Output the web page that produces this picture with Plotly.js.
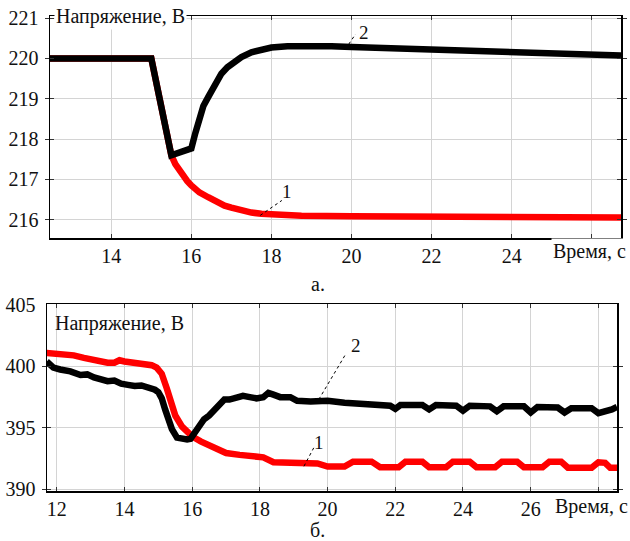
<!DOCTYPE html>
<html>
<head>
<meta charset="utf-8">
<script src="https://cdn.plot.ly/plotly-3.0.1.min.js"></script>
<style>html,body{margin:0;padding:0;background:#fff;}</style>
</head>
<body>
<div id="chart" style="width:630px;height:541px"></div>
<script>
// ---- Panel а: 220 V network ----
const tA = [12.47, 14.9, 15.0, 15.25, 15.5, 15.6, 15.75, 15.9, 16.0, 16.2, 16.42, 16.6, 16.83, 17.0, 17.25, 17.5, 17.75, 18.0, 18.4, 18.75, 20, 22, 24, 26.73];
const vA1 = [220.0, 220.0, 220.0, 218.8, 217.6, 217.38, 217.14, 216.96, 216.85, 216.68, 216.56, 216.45, 216.35, 216.3, 216.23, 216.18, 216.15, 216.13, 216.11, 216.1, 216.09, 216.08, 216.07, 216.06];
const tA2 = [12.47, 15.0, 15.5, 16.0, 16.1, 16.2, 16.3, 16.42, 16.6, 16.75, 16.9, 17.0, 17.25, 17.5, 17.75, 18.0, 18.4, 18.75, 19.5, 20, 21, 22, 23, 24, 25, 26, 26.73];
const vA2 = [220.0, 220.0, 217.6, 217.77, 218.15, 218.55, 218.82, 219.04, 219.38, 219.62, 219.78, 219.86, 220.03, 220.15, 220.23, 220.27, 220.3, 220.31, 220.3, 220.28, 220.25, 220.21, 220.18, 220.15, 220.12, 220.09, 220.07];
const ticksAx = [14, 16, 18, 20, 22, 24, 26];
const labelsAx = ['14', '16', '18', '20', '22', '24', ''];
const ticksAy = [216, 217, 218, 219, 220, 221];
const rangeAx = [12.47, 26.73];
const rangeAy = [215.55, 221.05];

// ---- Panel б: 400 V network ----
const tB1 = [11.7, 12.0, 12.3, 12.5, 12.8, 13.0, 13.3, 13.5, 13.7, 13.85, 14.0, 14.3, 14.6, 14.8, 14.95, 15.1, 15.25, 15.35, 15.5, 15.7, 15.85, 16.0, 16.25, 16.5, 16.75, 17.0, 17.4, 17.8, 18.1, 18.4, 18.8, 19.3, 19.7, 20.0, 20.5, 20.75, 21.3, 21.55, 22.1, 22.3, 22.8, 23.0, 23.5, 23.7, 24.2, 24.4, 24.95, 25.15, 25.6, 25.8, 26.35, 26.55, 26.9, 27.1, 27.8, 28.0, 28.2, 28.35, 28.55];
const vB1 = [401.1, 401.05, 401.0, 400.9, 400.7, 400.55, 400.4, 400.3, 400.3, 400.5, 400.4, 400.3, 400.25, 400.1, 399.9, 399.4, 398.2, 397.2, 396.0, 395.1, 394.6, 394.3, 393.9, 393.6, 393.2, 392.95, 392.8, 392.75, 392.6, 392.2, 392.15, 392.15, 392.1, 391.85, 391.85, 392.25, 392.25, 391.8, 391.8, 392.25, 392.25, 391.8, 391.8, 392.25, 392.25, 391.8, 391.8, 392.25, 392.25, 391.8, 391.8, 392.25, 392.25, 391.75, 391.75, 392.2, 392.15, 391.75, 391.75];
const tB2 = [11.7, 11.9, 12.1, 12.4, 12.7, 12.9, 13.1, 13.3, 13.5, 13.7, 13.9, 14.1, 14.3, 14.5, 14.7, 14.9, 15.0, 15.1, 15.2, 15.3, 15.4, 15.55, 15.7, 15.85, 15.95, 16.05, 16.2, 16.35, 16.5, 16.65, 16.8, 16.95, 17.1, 17.3, 17.5, 17.7, 17.9, 18.1, 18.25, 18.4, 18.6, 18.9, 19.1, 19.5, 19.8, 20.0, 20.5, 21.0, 21.5, 21.85, 22.0, 22.15, 22.8, 23.0, 23.2, 23.8, 24.0, 24.2, 24.8, 25.0, 25.2, 25.8, 26.0, 26.2, 26.8, 27.0, 27.2, 27.8, 28.0, 28.2, 28.4, 28.55];
const vB2 = [400.4, 399.9, 399.75, 399.6, 399.3, 399.35, 399.1, 399.0, 398.8, 398.85, 398.6, 398.5, 398.4, 398.45, 398.3, 398.1, 397.9, 397.4, 396.5, 395.6, 394.9, 394.2, 394.1, 394.05, 394.1, 394.5, 395.2, 395.7, 396.0, 396.5, 397.0, 397.3, 397.3, 397.5, 397.6, 397.5, 397.4, 397.5, 397.85, 397.7, 397.5, 397.5, 397.2, 397.15, 397.25, 397.2, 397.05, 396.95, 396.9, 396.8, 396.55, 396.85, 396.85, 396.5, 396.85, 396.8, 396.4, 396.8, 396.75, 396.35, 396.75, 396.75, 396.25, 396.7, 396.65, 396.25, 396.6, 396.6, 396.2, 396.3, 396.5, 396.7];
const ticksBx = [12, 14, 16, 18, 20, 22, 24, 26, 28];
const labelsBx = ['12', '14', '16', '18', '20', '22', '24', '26', ''];
const ticksBy = [390, 395, 400, 405];
const rangeBx = [11.71, 28.55];
const rangeBy = [389.86, 405.08];

const W = 630, H = 541;
const px = v => v / W;
const py = v => 1 - v / H;
const tf = (s) => ({family: 'Liberation Serif', size: s, color: '#111'});

const traces = [
  {x: tA, y: vA1, xaxis: 'x', yaxis: 'y', mode: 'lines', line: {color: '#ff0000', width: 6.5}},
  {x: tA2, y: vA2, xaxis: 'x', yaxis: 'y', mode: 'lines', line: {color: '#000000', width: 6.5}},
  {x: tB1, y: vB1, xaxis: 'x2', yaxis: 'y2', mode: 'lines', line: {color: '#ff0000', width: 6.5}},
  {x: tB2, y: vB2, xaxis: 'x2', yaxis: 'y2', mode: 'lines', line: {color: '#000000', width: 6.5}},
  {x: [], y: [], xaxis: 'x3', yaxis: 'y', mode: 'lines', hoverinfo: 'skip'},
  {x: [], y: [], xaxis: 'x4', yaxis: 'y2', mode: 'lines', hoverinfo: 'skip'}
];

function axBase() {
  return {
    showgrid: true, gridcolor: '#d4d4d4', gridwidth: 1,
    zeroline: false, showline: true, linecolor: '#000', linewidth: 1.5, mirror: 'allticks',
    ticks: 'inside', ticklen: 4, tickcolor: '#333', tickwidth: 1,
    tickfont: tf(20), automargin: false, fixedrange: true
  };
}
function labelAx() {
  return {
    showgrid: false, zeroline: false, showline: false, ticks: '', automargin: false, fixedrange: true,
    tickfont: tf(20)
  };
}

const layout = {
  width: W, height: H, showlegend: false,
  paper_bgcolor: '#fff', plot_bgcolor: '#fff',
  margin: {l: 0, r: 0, t: 0, b: 0},
  xaxis: Object.assign(axBase(), {domain: [px(50), px(621)], range: rangeAx, tickvals: ticksAx, showticklabels: false, anchor: 'y'}),
  yaxis: Object.assign(axBase(), {domain: [py(238), py(16)], range: rangeAy, tickvals: ticksAy, anchor: 'x', ticklabelstandoff: 6}),
  xaxis3: Object.assign(labelAx(), {domain: [px(50), px(621)], range: rangeAx, tickvals: ticksAx, ticktext: labelsAx, overlaying: 'x', anchor: 'y', ticklabelstandoff: 4}),
  xaxis2: Object.assign(axBase(), {domain: [px(47), px(617)], range: rangeBx, tickvals: ticksBx, showticklabels: false, anchor: 'y2'}),
  yaxis2: Object.assign(axBase(), {domain: [py(491), py(304)], range: rangeBy, tickvals: ticksBy, anchor: 'x2', ticklabelstandoff: 6}),
  xaxis4: Object.assign(labelAx(), {domain: [px(47), px(617)], range: rangeBx, tickvals: ticksBx, ticktext: labelsBx, overlaying: 'x2', anchor: 'y2', ticklabelstandoff: 4}),
  annotations: [
    {text: 'Напряжение, В', xref: 'paper', yref: 'paper', x: px(54), y: py(17), xanchor: 'left', yanchor: 'middle', showarrow: false, bgcolor: '#fff', borderpad: 1, font: tf(20)},
    {text: 'Время, с', xref: 'paper', yref: 'paper', x: px(628), y: py(251), xanchor: 'right', yanchor: 'middle', showarrow: false, bgcolor: '#fff', font: tf(20)},
    {text: 'а.', xref: 'paper', yref: 'paper', x: px(318), y: py(284), xanchor: 'center', yanchor: 'middle', showarrow: false, font: tf(20)},
    {text: 'Напряжение, В', xref: 'paper', yref: 'paper', x: px(53), y: py(323), xanchor: 'left', yanchor: 'middle', showarrow: false, font: tf(20)},
    {text: 'Время, с', xref: 'paper', yref: 'paper', x: px(630), y: py(506), xanchor: 'right', yanchor: 'middle', showarrow: false, bgcolor: '#fff', font: tf(20)},
    {text: 'б.', xref: 'paper', yref: 'paper', x: px(317), y: py(530), xanchor: 'center', yanchor: 'middle', showarrow: false, font: tf(20)},
    {text: '1', xref: 'x', yref: 'y', x: 18.39, y: 216.69, xanchor: 'center', yanchor: 'middle', showarrow: false, font: tf(19)},
    {text: '2', xref: 'x', yref: 'y', x: 20.32, y: 220.65, xanchor: 'center', yanchor: 'middle', showarrow: false, font: tf(19)},
    {text: '2', xref: 'x2', yref: 'y2', x: 20.85, y: 401.74, xanchor: 'center', yanchor: 'middle', showarrow: false, font: tf(19)},
    {text: '1', xref: 'x2', yref: 'y2', x: 19.74, y: 393.78, xanchor: 'center', yanchor: 'middle', showarrow: false, font: tf(19)}
  ],
  shapes: [
    {type: 'line', xref: 'x', yref: 'y', x0: 17.72, y0: 216.11, x1: 18.26, y1: 216.48, line: {color: '#000', width: 1, dash: 'dot'}},
    {type: 'line', xref: 'x', yref: 'y', x0: 19.93, y0: 220.35, x1: 20.1, y1: 220.6, line: {color: '#000', width: 1, dash: 'dot'}},
    {type: 'line', xref: 'x2', yref: 'y2', x0: 19.74, y0: 397.31, x1: 20.53, y1: 400.98, line: {color: '#000', width: 1, dash: 'dot'}},
    {type: 'line', xref: 'x2', yref: 'y2', x0: 19.3, y0: 391.87, x1: 19.59, y1: 393.37, line: {color: '#000', width: 1, dash: 'dot'}}
  ]
};

Plotly.newPlot('chart', traces, layout, {displayModeBar: false, staticPlot: true});
</script>
</body>
</html>
